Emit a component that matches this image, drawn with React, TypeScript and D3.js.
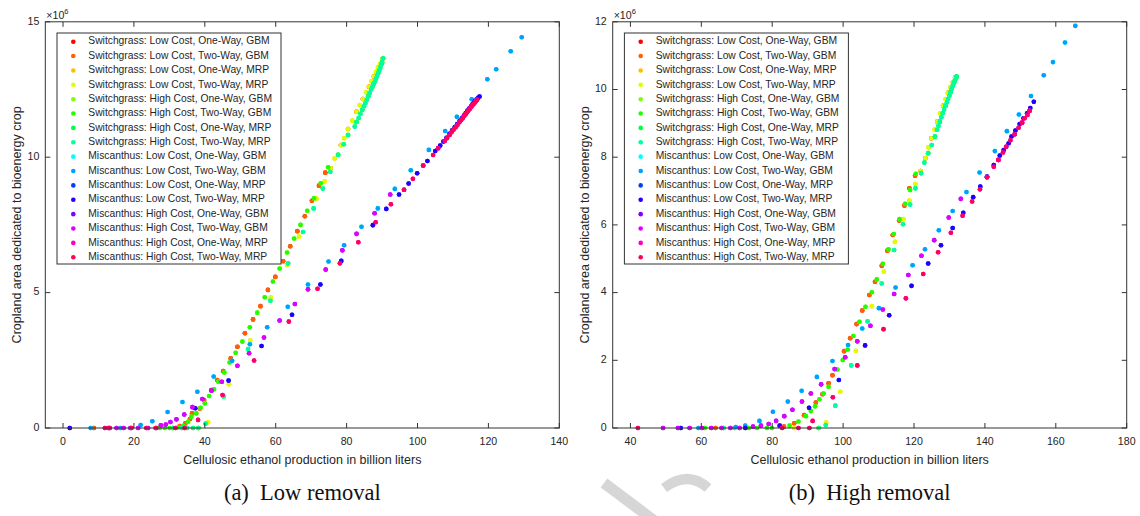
import React from 'react';
import * as d3 from 'd3';

const SERIES_NAMES = [
  'Switchgrass: Low Cost, One-Way, GBM',
  'Switchgrass: Low Cost, Two-Way, GBM',
  'Switchgrass: Low Cost, One-Way, MRP',
  'Switchgrass: Low Cost, Two-Way, MRP',
  'Switchgrass: High Cost, One-Way, GBM',
  'Switchgrass: High Cost, Two-Way, GBM',
  'Switchgrass: High Cost, One-Way, MRP',
  'Switchgrass: High Cost, Two-Way, MRP',
  'Miscanthus: Low Cost, One-Way, GBM',
  'Miscanthus: Low Cost, Two-Way, GBM',
  'Miscanthus: Low Cost, One-Way, MRP',
  'Miscanthus: Low Cost, Two-Way, MRP',
  'Miscanthus: High Cost, One-Way, GBM',
  'Miscanthus: High Cost, Two-Way, GBM',
  'Miscanthus: High Cost, One-Way, MRP',
  'Miscanthus: High Cost, Two-Way, MRP',
];

const SERIES_COLORS = [
  '#ff0000', '#ff6000', '#ffbf00', '#dfff00', '#80ff00', '#20ff00', '#00ff40', '#00ffa0',
  '#00ffff', '#00a0ff', '#0040ff', '#2000ff', '#8000ff', '#df00ff', '#ff00bf', '#ff0060',
];

// ---------- (a) Low removal : [ethanol (billion L), cropland (x10^6)] ----------
const swLowGBM_low = [
  [8.7, 0], [13.0, 0], [26.1, 0], [32.9, 0.07], [34.5, 0.17], [35.8, 0.33], [36.4, 0.54], [38.6, 0.72],
  [39.8, 1.03], [41.8, 1.4], [43.5, 1.77], [45.2, 2.1], [47.3, 2.57], [49.2, 3.0], [51.3, 3.5], [53.6, 4.01],
  [55.7, 4.5], [57.8, 5.1], [59.9, 5.58], [62.1, 6.16], [64.1, 6.71], [66.1, 7.27], [68.2, 7.82], [70.2, 8.39],
  [72.2, 8.95], [74.0, 9.43], [75.5, 9.59], [78.4, 10.45], [80.4, 11.04], [82.8, 11.68], [84.6, 12.15],
  [86.3, 12.6], [87.7, 12.98], [88.9, 13.3], [90.1, 13.62],
];
const swLowMRP_low = [
  [31.0, 0], [33.5, 0], [35.0, 0], [36.7, 0], [38.2, 0], [40.9, 0.21], [46.8, 1.62], [52.8, 3.23],
  [58.6, 4.82], [63.2, 6.02], [66.6, 7.07], [71.5, 8.47], [73.8, 9.1], [75.5, 9.59], [76.6, 9.95],
  [78.4, 10.45], [79.3, 10.7], [80.4, 11.04], [81.6, 11.35], [82.8, 11.68], [83.7, 11.93], [84.6, 12.15],
  [85.5, 12.4], [86.3, 12.6], [87.0, 12.8], [87.7, 12.98], [88.3, 13.15], [88.9, 13.3], [89.5, 13.45], [90.1, 13.62],
];
const swHighGBM_low = [
  [27.3, 0], [28.7, 0], [30.1, 0], [31.0, 0], [32.4, 0.02], [33.9, 0.08], [35.3, 0.23], [36.2, 0.42],
  [37.6, 0.54], [38.8, 0.75], [40.0, 0.91], [41.2, 1.18], [42.6, 1.43], [43.8, 1.71], [45.5, 2.05], [47.0, 2.42],
  [48.7, 2.78], [50.6, 3.19], [52.7, 3.72], [54.8, 4.26], [56.9, 4.83], [59.2, 5.41], [61.1, 5.89], [63.2, 6.48],
  [65.2, 7.0], [67.0, 7.5], [68.9, 8.02], [70.8, 8.48], [72.7, 9.04], [74.8, 9.63], [77.6, 10.09], [80.4, 10.82],
  [82.8, 11.3], [84.4, 11.75], [86.1, 12.25], [87.6, 12.7], [88.9, 13.1], [90.0, 13.5],
];
const swHighMRP_low = [
  [31.0, 0], [33.5, 0], [35.0, 0], [36.7, 0], [38.2, 0], [40.2, 0.16], [45.3, 1.16], [52.2, 2.92],
  [58.5, 4.7], [63.5, 6.08], [67.7, 7.24], [70.7, 8.11], [73.3, 8.84], [75.4, 9.46], [77.6, 10.09],
  [79.2, 10.48], [80.4, 10.82], [82.3, 11.13], [82.8, 11.3], [83.4, 11.45], [83.9, 11.6], [84.4, 11.75],
  [84.9, 11.88], [85.3, 12.0], [85.7, 12.12], [86.1, 12.25], [86.5, 12.38], [86.9, 12.5], [87.3, 12.6],
  [87.6, 12.7], [88.0, 12.8], [88.3, 12.9], [88.6, 13.0], [88.9, 13.1], [89.2, 13.2], [89.5, 13.3],
  [89.8, 13.42], [90.0, 13.5], [90.3, 13.65],
];
const mxLowGBM_low = [
  [7.8, 0], [16.2, 0], [21.9, 0.11], [25.2, 0.25], [29.5, 0.59], [33.7, 0.96], [37.9, 1.34], [42.5, 1.9],
  [47.7, 2.48], [52.7, 3.09], [57.6, 3.72], [63.4, 4.48], [69.1, 5.3], [74.9, 6.15], [79.3, 6.75], [84.2, 7.43],
  [88.8, 8.11], [93.6, 8.83], [98.1, 9.52], [103.2, 10.27], [107.8, 10.97], [111.1, 11.49], [115.3, 12.14],
  [119.7, 12.88], [122.2, 13.25], [126.3, 13.91], [129.4, 14.43],
];
const mxLowMRP_low = [
  [1.9, 0], [37.3, 0.73], [46.7, 1.75], [56.0, 3.03], [64.6, 4.18], [72.6, 5.3], [78.5, 6.17], [87.4, 7.49],
  [91.2, 8.09], [94.8, 8.62], [97.5, 9.03], [99.9, 9.41], [102.8, 9.86], [105.0, 10.23], [106.4, 10.43],
  [107.3, 10.58], [108.2, 10.72], [109.0, 10.86], [109.8, 10.99], [110.5, 11.11], [111.2, 11.22], [111.9, 11.34],
  [112.5, 11.44], [113.1, 11.54], [113.6, 11.63], [114.1, 11.72], [114.6, 11.8], [115.1, 11.88], [115.5, 11.95],
  [115.9, 12.02], [116.3, 12.08], [116.7, 12.14], [117.1, 12.19], [117.5, 12.24],
];
const mxHighGBM_low = [
  [12.7, 0], [15.1, 0], [17.1, 0], [19.0, 0], [21.2, 0], [24.0, 0], [27.6, 0.1], [29.0, 0.13], [30.3, 0.22],
  [32.0, 0.32], [34.2, 0.5], [36.5, 0.77], [39.3, 1.07], [41.9, 1.38], [44.8, 1.71], [49.2, 2.3], [52.5, 2.76],
  [56.7, 3.34], [61.1, 3.97], [65.4, 4.58], [69.1, 5.12], [74.1, 5.85], [78.8, 6.56], [82.8, 7.17], [87.9, 7.93],
  [92.3, 8.62], [96.2, 8.8], [101.6, 9.69], [105.8, 10.33], [109.0, 10.82], [112.3, 11.37], [114.8, 11.8], [116.8, 12.12],
];
const mxHighMRP_low = [
  [11.8, 0], [13.2, 0], [19.3, 0], [23.5, 0], [26.3, 0], [31.7, 0], [34.3, 0], [38.1, 0.3], [45.0, 1.22],
  [53.9, 2.49], [63.7, 3.93], [71.8, 5.14], [78.1, 6.08], [83.3, 6.86], [88.2, 7.6], [92.5, 8.26], [96.2, 8.8],
  [98.7, 9.2], [101.6, 9.69], [104.4, 10.08], [105.8, 10.33], [107.7, 10.6], [108.3, 10.7], [109.0, 10.82],
  [109.6, 10.92], [110.2, 11.02], [110.8, 11.11], [111.3, 11.2], [111.8, 11.29], [112.3, 11.37], [112.8, 11.45],
  [113.2, 11.52], [113.6, 11.59], [114.0, 11.66], [114.4, 11.73], [114.8, 11.8], [115.2, 11.86], [115.5, 11.92],
  [115.9, 11.97], [116.2, 12.02], [116.5, 12.07], [116.8, 12.12],
];

// ---------- (b) High removal ----------
const swLowGBM_high = [
  [64.0, 0], [83.3, 0.04], [86.2, 0.14], [89.0, 0.38], [92.3, 0.75], [94.2, 1.0], [95.9, 1.32], [97.0, 1.56],
  [100.3, 2.27], [102.0, 2.65], [103.8, 3.07], [105.4, 3.47], [107.4, 3.93], [109.0, 4.32], [110.9, 4.79],
  [112.5, 5.24], [114.0, 5.7], [115.8, 6.13], [117.3, 6.57], [118.7, 7.08], [120.3, 7.45], [121.9, 7.59],
  [123.2, 7.97], [124.9, 8.56], [126.6, 9.05], [128.2, 9.52], [129.6, 9.9], [131.0, 10.22], [131.6, 10.35],
];
const swLowMRP_high = [
  [66.3, 0], [86.2, 0], [93.1, 0], [95.2, 0.16], [99.2, 1.07], [103.6, 2.28], [108.1, 3.6], [111.5, 4.62],
  [114.6, 5.5], [117.0, 6.17], [118.7, 6.72], [120.4, 7.21], [121.9, 7.59], [123.2, 7.97], [124.1, 8.29],
  [124.9, 8.56], [125.8, 8.82], [126.6, 9.05], [127.4, 9.3], [128.2, 9.52], [128.9, 9.72], [129.6, 9.9],
  [130.3, 10.07], [131.0, 10.22], [131.6, 10.35],
];
const swHighGBM_high = [
  [61.0, 0], [69.4, 0], [73.4, 0], [75.7, 0], [78.5, 0], [79.9, 0], [84.9, 0.07], [87.4, 0.19], [89.5, 0.35],
  [90.9, 0.5], [92.1, 0.64], [93.3, 0.85], [94.5, 1.02], [95.9, 1.22], [98.4, 1.73], [99.9, 2.01], [101.3, 2.32],
  [102.9, 2.72], [104.6, 3.14], [106.3, 3.58], [108.1, 4.01], [109.5, 4.39], [111.2, 4.85], [112.8, 5.28],
  [114.3, 5.73], [115.9, 6.17], [117.5, 6.62], [118.9, 7.03], [120.5, 7.51], [122.0, 7.53], [124.0, 8.12],
  [125.9, 8.61], [127.3, 9.05], [128.9, 9.52], [130.3, 9.92], [131.5, 10.25], [132.0, 10.38],
];
const swHighMRP_high = [
  [66.3, 0], [93.1, 0], [95.1, 0.09], [97.8, 0.66], [102.3, 1.85], [106.9, 3.15], [110.9, 4.27], [114.4, 5.26],
  [116.9, 6.02], [118.9, 6.6], [120.4, 7.08], [122.0, 7.53], [122.9, 7.84], [124.0, 8.12], [125.0, 8.36],
  [125.9, 8.61], [126.5, 8.81], [126.9, 8.93], [127.3, 9.05], [127.7, 9.18], [128.1, 9.3], [128.5, 9.41],
  [128.9, 9.52], [129.3, 9.62], [129.6, 9.72], [130.0, 9.82], [130.3, 9.92], [130.6, 10.01], [130.9, 10.1],
  [131.2, 10.18], [131.5, 10.25], [131.8, 10.32], [132.0, 10.38],
];
const mxLowGBM_high = [
  [59.2, 0], [69.7, 0.03], [72.4, 0.07], [76.4, 0.21], [80.2, 0.48], [84.4, 0.78], [88.3, 1.1], [92.6, 1.51],
  [97.0, 1.98], [101.4, 2.45], [105.4, 2.94], [110.1, 3.54], [114.8, 4.15], [119.6, 4.81], [123.1, 5.28],
  [127.0, 5.84], [130.9, 6.41], [134.8, 6.97], [138.5, 7.55], [142.8, 8.18], [146.2, 8.77], [149.6, 9.26],
  [153.0, 9.81], [156.6, 10.42], [159.2, 10.81], [162.6, 11.39], [165.5, 11.88],
];
const mxLowMRP_high = [
  [54.2, 0], [72.4, 0], [82.1, 0.07], [90.4, 0.6], [98.8, 1.42], [106.2, 2.44], [113.0, 3.33], [119.3, 4.2],
  [124.0, 4.86], [127.6, 5.4], [130.9, 5.91], [133.9, 6.36], [136.7, 6.82], [138.7, 7.13], [140.6, 7.43],
  [142.5, 7.77], [144.2, 8.05], [145.3, 8.21], [146.7, 8.41], [147.5, 8.61], [148.6, 8.79], [149.8, 8.98],
  [150.9, 9.15], [151.9, 9.3], [152.8, 9.45], [153.8, 9.64],
];
const mxHighGBM_high = [
  [49.2, 0], [53.4, 0], [56.7, 0], [60.2, 0], [62.8, 0], [65.7, 0], [68.2, 0], [70.8, 0], [74.6, 0.04],
  [76.8, 0.07], [79.0, 0.12], [81.1, 0.21], [83.4, 0.35], [85.7, 0.54], [88.4, 0.78], [90.9, 1.02], [93.8, 1.29],
  [97.6, 1.74], [100.6, 2.09], [104.0, 2.56], [107.7, 3.02], [111.2, 3.5], [114.4, 3.96], [118.4, 4.52],
  [122.1, 5.09], [125.7, 5.55], [129.8, 6.22], [133.2, 6.77], [140.6, 7.41], [143.8, 7.92], [146.0, 8.31],
  [148.4, 8.68], [150.5, 9.02], [152.6, 9.37],
];
const mxHighMRP_high = [
  [42.1, 0], [82.8, 0], [87.4, 0], [90.5, 0], [91.4, 0.21], [97.1, 0.91], [104.0, 1.85], [111.4, 2.92],
  [117.7, 3.83], [122.6, 4.55], [126.8, 5.19], [130.4, 5.77], [133.7, 6.27], [136.4, 6.69], [138.6, 7.05],
  [140.6, 7.41], [142.5, 7.72], [143.8, 7.92], [145.1, 8.14], [146.0, 8.31], [147.2, 8.5], [148.4, 8.68],
  [149.5, 8.87], [150.5, 9.02], [151.2, 9.15], [152.0, 9.25], [152.6, 9.37],
];

// One-Way / Two-Way variants plot on top of each other
const lowRemovalSeries = [
  swLowGBM_low, swLowGBM_low, swLowMRP_low, swLowMRP_low,
  swHighGBM_low, swHighGBM_low, swHighMRP_low, swHighMRP_low,
  mxLowGBM_low, mxLowGBM_low, mxLowMRP_low, mxLowMRP_low,
  mxHighGBM_low, mxHighGBM_low, mxHighMRP_low, mxHighMRP_low,
];
const highRemovalSeries = [
  swLowGBM_high, swLowGBM_high, swLowMRP_high, swLowMRP_high,
  swHighGBM_high, swHighGBM_high, swHighMRP_high, swHighMRP_high,
  mxLowGBM_high, mxLowGBM_high, mxLowMRP_high, mxLowMRP_high,
  mxHighGBM_high, mxHighGBM_high, mxHighMRP_high, mxHighMRP_high,
];

const lowXTicks = [0, 20, 40, 60, 80, 100, 120, 140];
const lowYTicks = [0, 5, 10, 15];
const highXTicks = [40, 60, 80, 100, 120, 140, 160, 180];
const highYTicks = [0, 2, 4, 6, 8, 10, 12];

const X_LABEL = 'Cellulosic ethanol production in billion liters';
const Y_LABEL = 'Cropland area dedicated to bioenergy crop';

const SANS = '"Liberation Sans", Arial, Helvetica, sans-serif';
const SERIF = '"Liberation Serif", "Times New Roman", serif';
const AXIS = '#333333';
const TEXT = '#262626';

const PLOT_W = 514;
const PLOT_TOP = 21.8;
const PLOT_BOTTOM = 428;

function Panel({ left, series, xDomain, yDomain, xTicks, yTicks, captionTag, captionText }) {
  const x = d3.scaleLinear().domain(xDomain).range([left, left + PLOT_W]);
  const y = d3.scaleLinear().domain(yDomain).range([PLOT_BOTTOM, PLOT_TOP]);
  const right = left + PLOT_W;
  const tl = 5;
  const legX = left + 11.7;
  const legY = 33;
  const rowH = 14.37;
  return (
    <g>
      {/* data */}
      {series.map((pts, si) => (
        <g key={si} fill={SERIES_COLORS[si]}>
          {pts.map((p, i) => (
            <circle key={i} cx={x(p[0])} cy={y(p[1])} r={2.3} />
          ))}
        </g>
      ))}
      {/* frame */}
      <rect x={left} y={PLOT_TOP} width={PLOT_W} height={PLOT_BOTTOM - PLOT_TOP} fill="none" stroke={AXIS} strokeWidth={1} />
      {xTicks.map((t) => (
        <g key={'xt' + t}>
          <line x1={x(t)} x2={x(t)} y1={PLOT_BOTTOM} y2={PLOT_BOTTOM - tl} stroke={AXIS} />
          <line x1={x(t)} x2={x(t)} y1={PLOT_TOP} y2={PLOT_TOP + tl} stroke={AXIS} />
          <text x={x(t)} y={442} textAnchor="middle" dominantBaseline="middle" fontSize={10.6} fill={TEXT} fontFamily={SANS}>{t}</text>
        </g>
      ))}
      {yTicks.map((t) => (
        <g key={'yt' + t}>
          <line x1={left} x2={left + tl} y1={y(t)} y2={y(t)} stroke={AXIS} />
          <line x1={right} x2={right - tl} y1={y(t)} y2={y(t)} stroke={AXIS} />
          <text x={left - 6} y={y(t)} textAnchor="end" dominantBaseline="middle" fontSize={10.6} fill={TEXT} fontFamily={SANS}>{t}</text>
        </g>
      ))}
      <text x={left + 1} y={19} fontSize={10.6} fill={TEXT} fontFamily={SANS}>
        ×10<tspan fontSize={7.5} dy={-5}>6</tspan>
      </text>
      <text x={(left + right) / 2} y={461} textAnchor="middle" dominantBaseline="middle" fontSize={12.5} fill={TEXT} fontFamily={SANS}>{X_LABEL}</text>
      <text transform={`translate(${left - 27.3},${(PLOT_TOP + PLOT_BOTTOM) / 2}) rotate(-90)`} textAnchor="middle" dominantBaseline="middle" fontSize={12.5} fill={TEXT} fontFamily={SANS}>{Y_LABEL}</text>
      {/* legend */}
      <rect x={legX} y={legY} width={224} height={231} fill="#ffffff" stroke={AXIS} strokeWidth={1} />
      {SERIES_NAMES.map((name, i) => (
        <g key={name}>
          <circle cx={legX + 16.3} cy={legY + 8.7 + i * rowH} r={2.3} fill={SERIES_COLORS[i]} />
          <text x={legX + 31.3} y={legY + 8.7 + i * rowH} dominantBaseline="middle" fontSize={10.3} fill={TEXT} fontFamily={SANS}>{name}</text>
        </g>
      ))}
      {/* caption */}
      <text x={(left + right) / 2} y={500} textAnchor="middle" fontSize={22.5} fill="#111" fontFamily={SERIF} style={{ whiteSpace: 'pre' }}>
        {captionTag + '  ' + captionText}
      </text>
    </g>
  );
}

export default function App() {
  return (
    <svg width={1140} height={516} style={{ position: 'absolute', left: 0, top: 0, background: '#fff' }}>
      <rect x={0} y={0} width={1140} height={516} fill="#ffffff" />
      {/* faint watermark strokes */}
      <path d="M 604 483 L 664 528" stroke="#d6d6d6" strokeWidth={11} fill="none" />
      <path d="M 664 488 Q 688 470 708 488" stroke="#d6d6d6" strokeWidth={10} fill="none" />
      <Panel left={45.3} series={lowRemovalSeries} xDomain={[-5, 140]} yDomain={[0, 15]} xTicks={lowXTicks} yTicks={lowYTicks} captionTag="(a)" captionText="Low removal" />
      <Panel left={612.7} series={highRemovalSeries} xDomain={[35, 180]} yDomain={[0, 12]} xTicks={highXTicks} yTicks={highYTicks} captionTag="(b)" captionText="High removal" />
    </svg>
  );
}
